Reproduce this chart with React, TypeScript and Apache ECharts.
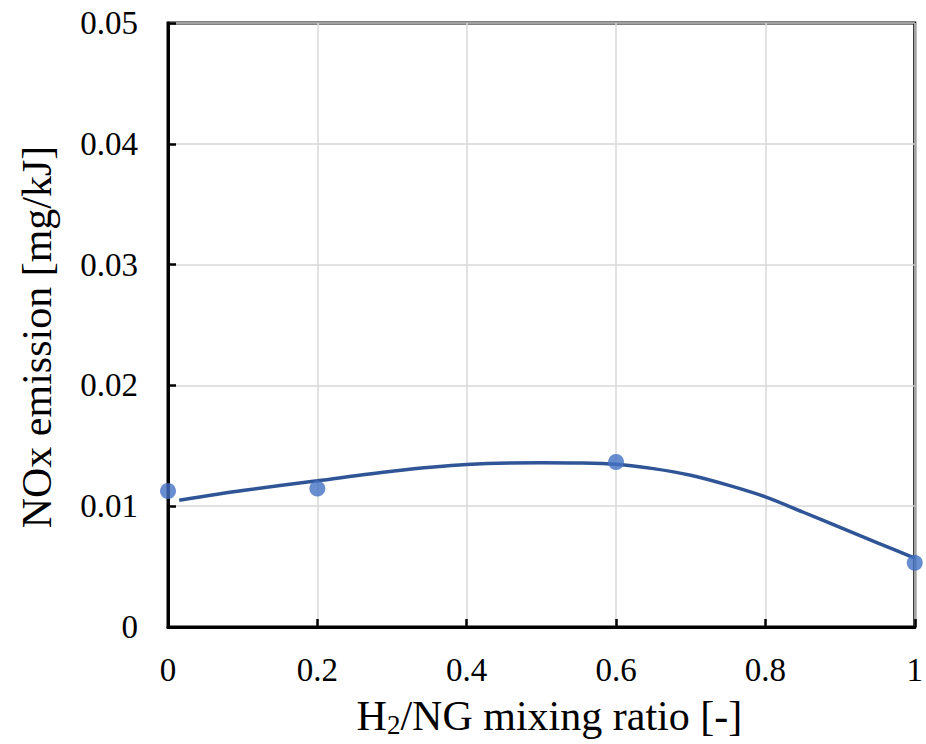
import React, { useEffect, useRef } from "react";
import * as echarts from "echarts";

const mixingRatio = [0, 0.2, 0.6, 1.0];
const noxEmission = [0.01126, 0.01146, 0.01366, 0.00531];

const trendX = [0.015, 0.1, 0.2, 0.3, 0.4, 0.5, 0.55, 0.6, 0.65, 0.7, 0.75, 0.8, 0.85, 0.9, 0.95, 1.0];
const trendY = [0.0105, 0.0113, 0.0121, 0.0129, 0.01345, 0.0136, 0.01358, 0.01347, 0.01311, 0.01256, 0.01174, 0.01077, 0.00952, 0.00825, 0.00697, 0.0057];

const xTicks = [0, 0.2, 0.4, 0.6, 0.8, 1];
const yTicks = [0, 0.01, 0.02, 0.03, 0.04, 0.05];

const FONT = "'Liberation Serif', 'Times New Roman', serif";

export default function App() {
  const ref = useRef<HTMLDivElement>(null);
  useEffect(() => {
    if (!ref.current) return;
    const chart = echarts.init(ref.current, null, { renderer: "svg" });
    chart.setOption({
      animation: false,
      backgroundColor: "#ffffff",
      grid: {
        left: 168,
        top: 23,
        width: 753,
        height: 604,
        show: true,
        borderColor: "#000000",
        borderWidth: 3,
        backgroundColor: "transparent",
      },
      xAxis: {
        type: "value",
        min: xTicks[0],
        max: xTicks[xTicks.length - 1],
        interval: 0.2,
        name: "{a|H}{sub|2}{a|/NG mixing ratio [-]}",
        nameLocation: "middle",
        nameGap: 67,
        nameTextStyle: {
          padding: [0, 0, 0, 16],
          rich: {
            a: { fontFamily: FONT, fontSize: 42, color: "#000", lineHeight: 44 },
            sub: { fontFamily: FONT, fontSize: 27, color: "#000", lineHeight: 22, verticalAlign: "bottom" },
          },
        },
        axisLine: { show: true, lineStyle: { color: "#000", width: 3 } },
        axisTick: { show: true, inside: true, length: 8, lineStyle: { color: "#000", width: 2.5 } },
        axisLabel: {
          fontFamily: FONT,
          fontSize: 33,
          color: "#000",
          margin: 26,
          formatter: (v: number) => String(Math.round(v * 10) / 10),
        },
        splitLine: { show: true, lineStyle: { color: "#d9d9d9", width: 1.5 } },
      },
      yAxis: {
        type: "value",
        min: yTicks[0],
        max: yTicks[yTicks.length - 1],
        interval: 0.01,
        name: "NOx emission [mg/kJ]",
        nameLocation: "middle",
        nameGap: 110,
        nameTextStyle: { fontFamily: FONT, fontSize: 42, color: "#000", padding: [0, 24, 0, 0] },
        axisLine: { show: true, lineStyle: { color: "#000", width: 3 } },
        axisTick: { show: true, inside: true, length: 8, lineStyle: { color: "#000", width: 2.5 } },
        axisLabel: {
          fontFamily: FONT,
          fontSize: 33,
          color: "#000",
          margin: 30,
          formatter: (v: number) => (v === 0 ? "0" : v.toFixed(2)),
        },
        splitLine: { show: true, lineStyle: { color: "#d9d9d9", width: 1.5 } },
      },
      series: [
        {
          type: "line",
          data: trendX.map((x, i) => [x, trendY[i]]),
          smooth: 0.3,
          showSymbol: false,
          lineStyle: { color: "#2f5597", width: 3.5 },
          z: 2,
        },
        {
          type: "scatter",
          data: mixingRatio.map((x, i) => [x, noxEmission[i]]),
          symbol: "circle",
          symbolSize: 16,
          itemStyle: { color: "#4472c4" },
          z: 3,
        },
      ],
    });
    return () => chart.dispose();
  }, []);
  return <div ref={ref} style={{ width: 926, height: 744, position: "absolute", left: 0, top: 0 }} />;
}
